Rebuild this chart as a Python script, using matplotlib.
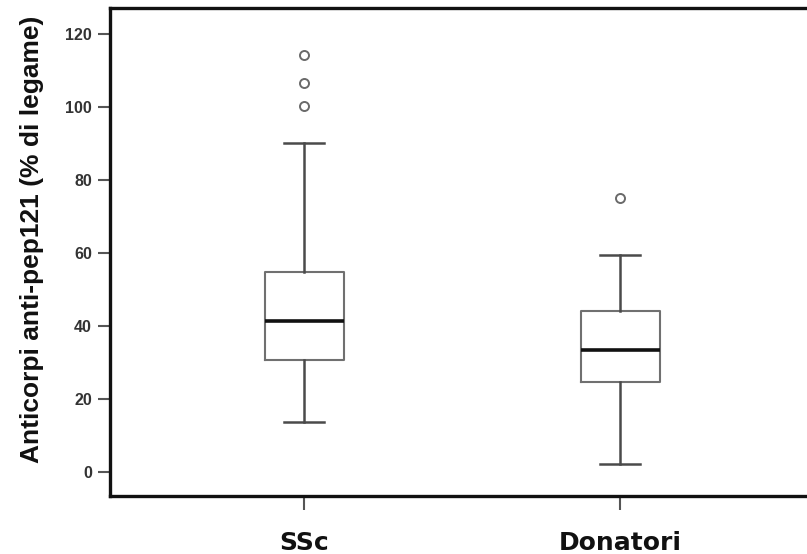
import matplotlib
matplotlib.use("Agg")
import matplotlib.pyplot as plt

# Data
categories = ["SSc", "Donatori"]
whisker_low = [13.5, 2.1]
q1 = [30.6, 24.6]
median = [41.4, 33.2]
q3 = [54.7, 44.1]
whisker_high = [90.0, 59.4]
outliers = [[100.1, 106.5, 114.3], [75.1]]
y_ticks = [0, 20, 40, 60, 80, 100, 120]

fig = plt.figure(figsize=(8.07, 5.54), dpi=100)
ax = fig.add_axes([110 / 807, 58 / 554, 697 / 807, 488 / 554])

stats = []
for i, c in enumerate(categories):
    stats.append(dict(label=c, whislo=whisker_low[i], q1=q1[i], med=median[i],
                      q3=q3[i], whishi=whisker_high[i], fliers=outliers[i]))

positions = [1, 2]
ax.bxp(stats, positions=positions, widths=0.25, capwidths=0.127,
       boxprops=dict(color="#707070", linewidth=1.5),
       whiskerprops=dict(color="#4a4a4a", linewidth=1.8),
       capprops=dict(color="#4a4a4a", linewidth=1.8),
       medianprops=dict(color="#111111", linewidth=2.6),
       flierprops=dict(marker="o", markersize=6.5, markerfacecolor="none",
                       markeredgecolor="#6a6a6a", markeredgewidth=1.4))

ax.set_xlim(0.386, 2.59)
ax.set_ylim(-6.7, 127.1)
ax.set_yticks(y_ticks)
ax.set_xticks(positions)
ax.set_xticklabels(categories, fontfamily="DejaVu Sans", fontweight="bold",
                   fontsize=18, color="#111111")
for lab in ax.get_yticklabels():
    lab.set_fontfamily("Liberation Sans")
    lab.set_fontsize(11.5)
    lab.set_fontweight("bold")
    lab.set_color("#333333")

ax.tick_params(axis="y", direction="out", length=9, width=1.5, color="#555555", pad=4)
ax.tick_params(axis="x", direction="out", length=10, width=1.5, color="#555555", pad=15)

for s in ["left", "bottom", "top"]:
    ax.spines[s].set_linewidth(2.4)
    ax.spines[s].set_color("#111111")
ax.spines["right"].set_visible(False)

ax.set_ylabel("Anticorpi anti-pep121 (% di legame)",
              family=["Liberation Sans"],
              fontweight="bold", fontsize=19, color="#111111")
ax.yaxis.set_label_coords(-0.095, 0.525)

fig.savefig("out.png", dpi=100)
